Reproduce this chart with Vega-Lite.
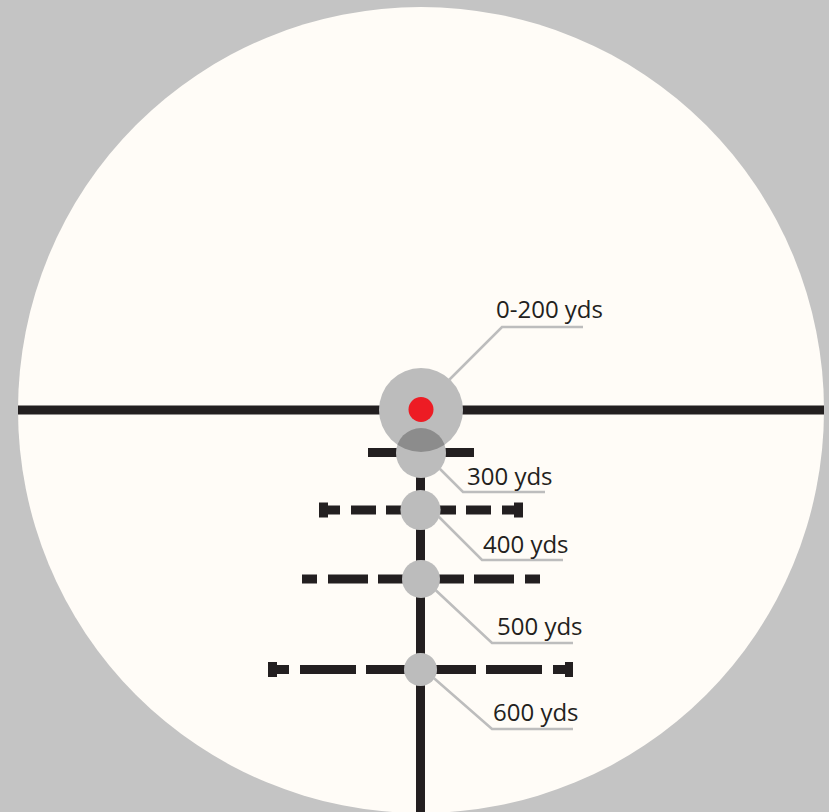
{
  "$schema": "https://vega.github.io/schema/vega-lite/v6.json",
  "width": 829,
  "height": 812,
  "autosize": "none",
  "padding": 0,
  "background": "#c4c4c4",
  "config": {"view": {"stroke": null}},
  "datasets": {
    "scope": [{"name": "field of view", "x": 421, "y": 410}],
    "segments": [
      {"level": "crosshair", "part": "bar", "x1": 18, "x2": 824, "y": 410},
      {"level": "300 yds", "part": "bar", "x1": 368, "x2": 474, "y": 452.5},
      {"level": "400 yds", "part": "bar", "x1": 328, "x2": 340, "y": 510},
      {"level": "400 yds", "part": "bar", "x1": 351, "x2": 376, "y": 510},
      {"level": "400 yds", "part": "bar", "x1": 386, "x2": 456, "y": 510},
      {"level": "400 yds", "part": "bar", "x1": 466, "x2": 491, "y": 510},
      {"level": "400 yds", "part": "bar", "x1": 502, "x2": 514, "y": 510},
      {"level": "400 yds", "part": "cap", "x1": 319, "x2": 328, "y": 510},
      {"level": "400 yds", "part": "cap", "x1": 514, "x2": 523, "y": 510},
      {"level": "500 yds", "part": "bar", "x1": 302, "x2": 317, "y": 579},
      {"level": "500 yds", "part": "bar", "x1": 328, "x2": 368, "y": 579},
      {"level": "500 yds", "part": "bar", "x1": 378, "x2": 464, "y": 579},
      {"level": "500 yds", "part": "bar", "x1": 474, "x2": 514, "y": 579},
      {"level": "500 yds", "part": "bar", "x1": 525, "x2": 540, "y": 579},
      {"level": "600 yds", "part": "bar", "x1": 277, "x2": 289, "y": 669.5},
      {"level": "600 yds", "part": "bar", "x1": 300, "x2": 356, "y": 669.5},
      {"level": "600 yds", "part": "bar", "x1": 366, "x2": 476, "y": 669.5},
      {"level": "600 yds", "part": "bar", "x1": 486, "x2": 542, "y": 669.5},
      {"level": "600 yds", "part": "bar", "x1": 553, "x2": 565, "y": 669.5},
      {"level": "600 yds", "part": "cap", "x1": 268, "x2": 277, "y": 669.5},
      {"level": "600 yds", "part": "cap", "x1": 565, "x2": 573, "y": 669.5}
    ],
    "post": [{"name": "vertical post", "x": 420.5, "y1": 455, "y2": 812}],
    "leaders": [
      {"range": "0-200 yds", "order": 1, "x": 430, "y": 399},
      {"range": "0-200 yds", "order": 2, "x": 502, "y": 327},
      {"range": "0-200 yds", "order": 3, "x": 583, "y": 327},
      {"range": "300 yds", "order": 1, "x": 435, "y": 464},
      {"range": "300 yds", "order": 2, "x": 463, "y": 492},
      {"range": "300 yds", "order": 3, "x": 545, "y": 492},
      {"range": "400 yds", "order": 1, "x": 434, "y": 512},
      {"range": "400 yds", "order": 2, "x": 482, "y": 560},
      {"range": "400 yds", "order": 3, "x": 563, "y": 560},
      {"range": "500 yds", "order": 1, "x": 428, "y": 583},
      {"range": "500 yds", "order": 2, "x": 492, "y": 643},
      {"range": "500 yds", "order": 3, "x": 573, "y": 643},
      {"range": "600 yds", "order": 1, "x": 428, "y": 673},
      {"range": "600 yds", "order": 2, "x": 492, "y": 729},
      {"range": "600 yds", "order": 3, "x": 573, "y": 729}
    ],
    "circles": [
      {"range": "0-200 yds", "x": 421, "y": 410},
      {"range": "300 yds", "x": 421, "y": 453},
      {"range": "400 yds", "x": 420.5, "y": 510},
      {"range": "500 yds", "x": 421, "y": 579},
      {"range": "600 yds", "x": 420.5, "y": 669.5}
    ],
    "dot": [{"name": "red dot", "x": 421, "y": 409.5}],
    "labels": [
      {"range": "0-200 yds", "x": 496, "y": 318},
      {"range": "300 yds", "x": 467, "y": 485},
      {"range": "400 yds", "x": 483, "y": 553},
      {"range": "500 yds", "x": 497, "y": 635},
      {"range": "600 yds", "x": 493, "y": 721}
    ]
  },
  "encoding": {
    "x": {"type": "quantitative", "scale": {"domain": [0, 829], "nice": false, "zero": false}, "axis": null},
    "y": {"type": "quantitative", "scale": {"domain": [0, 812], "nice": false, "zero": false, "reverse": true}, "axis": null}
  },
  "layer": [
    {
      "data": {"name": "scope"},
      "mark": {"type": "point", "shape": "circle", "filled": true, "size": 649636, "color": "#fffcf7", "opacity": 1, "strokeWidth": 0},
      "encoding": {"x": {"field": "x", "type": "quantitative"}, "y": {"field": "y", "type": "quantitative"}}
    },
    {
      "data": {"name": "segments"},
      "transform": [{"filter": "datum.part === 'bar'"}],
      "mark": {"type": "rule", "color": "#231f20", "strokeWidth": 9, "strokeCap": "butt"},
      "encoding": {
        "x": {"field": "x1", "type": "quantitative"},
        "x2": {"field": "x2"},
        "y": {"field": "y", "type": "quantitative"}
      }
    },
    {
      "data": {"name": "segments"},
      "transform": [{"filter": "datum.part === 'cap'"}],
      "mark": {"type": "rule", "color": "#231f20", "strokeWidth": 15, "strokeCap": "butt"},
      "encoding": {
        "x": {"field": "x1", "type": "quantitative"},
        "x2": {"field": "x2"},
        "y": {"field": "y", "type": "quantitative"}
      }
    },
    {
      "data": {"name": "post"},
      "mark": {"type": "rule", "color": "#231f20", "strokeWidth": 9, "strokeCap": "butt"},
      "encoding": {
        "x": {"field": "x", "type": "quantitative"},
        "y": {"field": "y1", "type": "quantitative"},
        "y2": {"field": "y2"}
      }
    },
    {
      "data": {"name": "leaders"},
      "mark": {"type": "line", "color": "#bdbdbd", "strokeWidth": 2.6, "strokeCap": "butt", "strokeJoin": "miter"},
      "encoding": {
        "x": {"field": "x", "type": "quantitative"},
        "y": {"field": "y", "type": "quantitative"},
        "detail": {"field": "range", "type": "nominal"},
        "order": {"field": "order", "type": "quantitative"}
      }
    },
    {
      "data": {"name": "circles"},
      "mark": {"type": "point", "shape": "circle", "filled": true, "color": "#fdfdfd", "opacity": 1, "strokeWidth": 0},
      "encoding": {
        "x": {"field": "x", "type": "quantitative"},
        "y": {"field": "y", "type": "quantitative"},
        "size": {"field": "range", "type": "ordinal", "scale": {"type": "ordinal", "domain": ["0-200 yds", "300 yds", "400 yds", "500 yds", "600 yds"], "range": [7056, 2500, 1600, 1444, 1089]}, "legend": null}
      }
    },
    {
      "data": {"name": "circles"},
      "mark": {"type": "point", "shape": "circle", "filled": true, "color": "#000000", "opacity": 0.253, "strokeWidth": 0},
      "encoding": {
        "x": {"field": "x", "type": "quantitative"},
        "y": {"field": "y", "type": "quantitative"},
        "size": {"field": "range", "type": "ordinal", "scale": {"type": "ordinal", "domain": ["0-200 yds", "300 yds", "400 yds", "500 yds", "600 yds"], "range": [7056, 2500, 1600, 1444, 1089]}, "legend": null}
      }
    },
    {
      "data": {"name": "dot"},
      "mark": {"type": "point", "shape": "circle", "filled": true, "size": 625, "color": "#ed1c24", "opacity": 1, "strokeWidth": 0},
      "encoding": {"x": {"field": "x", "type": "quantitative"}, "y": {"field": "y", "type": "quantitative"}}
    },
    {
      "data": {"name": "labels"},
      "mark": {"type": "text", "align": "left", "baseline": "alphabetic", "font": "Open Sans", "fontSize": 24, "color": "#231f20"},
      "encoding": {
        "x": {"field": "x", "type": "quantitative"},
        "y": {"field": "y", "type": "quantitative"},
        "text": {"field": "range", "type": "nominal"}
      }
    }
  ]
}
